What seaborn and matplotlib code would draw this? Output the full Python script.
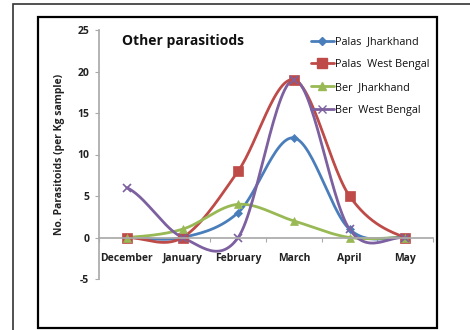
import numpy as np
import pandas as pd
import matplotlib
matplotlib.use("Agg")
import matplotlib.pyplot as plt
import seaborn as sns
from matplotlib.patches import Rectangle

months = ["December", "January", "February", "March", "April", "May"]
palas_jharkhand = [0, 0, 3, 12, 1, 0]
palas_west_bengal = [0, 0, 8, 19, 5, 0]
ber_jharkhand = [0, 1, 4, 2, 0, 0]
ber_west_bengal = [6, 0, 0, 19, 1, 0]
series_names = ["Palas  Jharkhand", "Palas  West Bengal", "Ber  Jharkhand", "Ber  West Bengal"]
series_values = [palas_jharkhand, palas_west_bengal, ber_jharkhand, ber_west_bengal]
colors = ["#4A7EBB", "#BE4B48", "#98B954", "#7D60A0"]
markers = ["D", "s", "^", "x"]
msizes = [4, 6.5, 6, 6]
y_ticks = [-5, 0, 5, 10, 15, 20, 25]

sns.set_theme(style="white")
plt.rcParams['font.family'] = ['Open Sans', 'DejaVu Sans']


def smooth(y, n=30):
    # Catmull-Rom (Excel-like smoothed line) through the data points
    y = np.asarray(y, float)
    x = np.arange(len(y), dtype=float)
    P = np.concatenate([[y[0]], y, [y[-1]]])
    xs, ys = [], []
    for i in range(len(y) - 1):
        p0, p1, p2, p3 = P[i], P[i + 1], P[i + 2], P[i + 3]
        t = np.linspace(0, 1, n, endpoint=(i == len(y) - 2))
        m1 = (p2 - p0) / 2
        m2 = (p3 - p1) / 2
        h00 = 2 * t**3 - 3 * t**2 + 1
        h10 = t**3 - 2 * t**2 + t
        h01 = -2 * t**3 + 3 * t**2
        h11 = t**3 - t**2
        ys.append(h00 * p1 + h10 * m1 + h01 * p2 + h11 * m2)
        xs.append(x[i] + t)
    return np.concatenate(xs), np.concatenate(ys)


fig = plt.figure(figsize=(4.7, 3.3), dpi=100)
W, H = 470, 330
# outer and inner frames
fig.patches.append(Rectangle((13 / W, -0.1), 1.2, 1 - 4 / H + 0.1, transform=fig.transFigure,
                             fill=False, edgecolor="#333333", linewidth=1.2))
fig.patches.append(Rectangle((38 / W, 2 / H), (437 - 38) / W, (311) / H, transform=fig.transFigure,
                             fill=False, edgecolor="black", linewidth=1.6))

ax = fig.add_axes([99 / W, 1 - 279 / H, (433 - 99) / W, (279 - 30) / H])
ax.patch.set_alpha(0)

rows = []
for name, vals in zip(series_names, series_values):
    xs, ys = smooth(vals)
    for a, b in zip(xs, ys):
        rows.append({"x": a, "y": b, "series": name})
curves = pd.DataFrame(rows)
sns.lineplot(data=curves, x="x", y="y", hue="series", palette=colors, hue_order=series_names,
             sort=False, estimator=None, linewidth=2, ax=ax, legend=False)

pts = pd.DataFrame([{"x": i, "y": v, "series": n}
                    for n, vals in zip(series_names, series_values) for i, v in enumerate(vals)])
for name, c, m, ms in zip(series_names, colors, markers, msizes):
    d = pts[pts.series == name]
    ax.plot(d.x, d.y, linestyle="none", marker=m, color=c, markersize=ms,
            markeredgewidth=1.2 if m == "x" else 0.5)

# legend
handles = [plt.Line2D([], [], color=c, marker=m, markersize=ms, linewidth=2)
           for c, m, ms in zip(colors, markers, msizes)]
leg = ax.legend(handles, series_names, loc="upper left", bbox_to_anchor=(0.615, 1.0),
                frameon=False, fontsize=7.8, handlelength=2.1, handletextpad=0.1,
                labelspacing=1.08, borderaxespad=0.2)
for t in leg.get_texts():
    t.set_color("#111111")

ax.text(0.07, 0.955, "Other parasitiods", transform=ax.transAxes, fontsize=10,
        fontweight="bold", color="#111111", va="center", ha="left")

ax.spines["bottom"].set_position(("data", 0))
ax.set_xlim(-0.5, 5.5)
ax.set_ylim(-5, 25)
ax.set_yticks(y_ticks)
ax.set_yticklabels([str(v) for v in y_ticks], fontsize=7.5, fontweight="bold", color="#222222")
ax.set_xticks(range(len(months)))
ax.set_xticklabels(months, fontsize=7.5, fontweight="bold", color="#222222")
ax.set_xticks(np.arange(-0.5, 6, 1), minor=True)
ax.tick_params(axis="x", which="major", length=0, pad=11, bottom=True)
ax.tick_params(axis="x", which="minor", length=3, direction="out", color="#aaaaaa", width=0.8, bottom=True)
ax.tick_params(axis="y", length=3, direction="out", color="#aaaaaa", width=0.8, pad=4, left=True)
ax.spines["bottom"].set_color("#aaaaaa")
ax.spines["left"].set_color("#aaaaaa")
ax.spines["top"].set_visible(False)
ax.spines["right"].set_visible(False)
ax.set_xlabel("")
ax.set_ylabel("No. Parasitoids (per Kg sample)", fontsize=7.5, fontweight="bold",
              color="#222222", labelpad=9)

fig.savefig("out.png", dpi=100)
